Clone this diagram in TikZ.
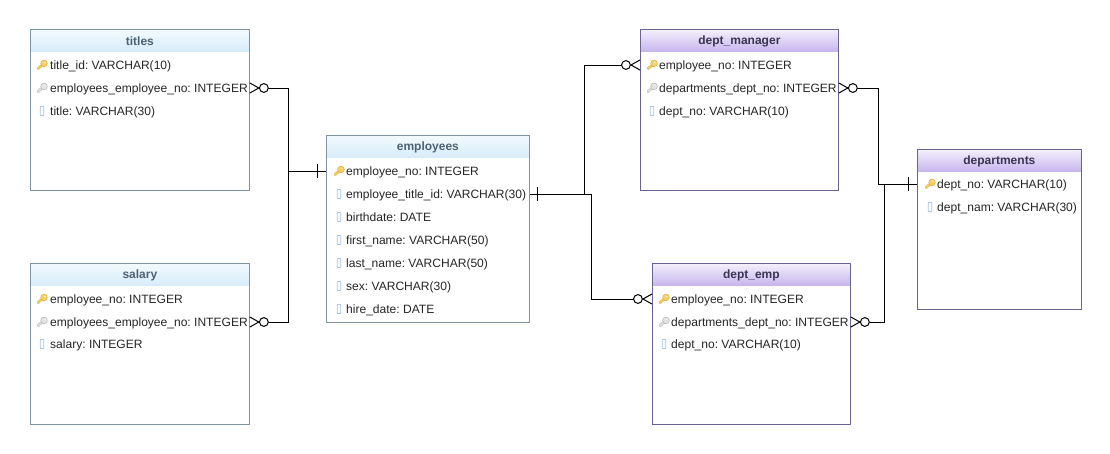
\documentclass[tikz,border=0pt]{standalone}
\usepackage{fontspec}
\setmainfont{Liberation Sans}
\usetikzlibrary{calc}
\definecolor{bluebd}{HTML}{7F939F}
\definecolor{purpbd}{HTML}{6A6390}
\definecolor{bluetop}{HTML}{F2F9FD}
\definecolor{bluebot}{HTML}{D6ECFA}
\definecolor{purptop}{HTML}{F3EEFC}
\definecolor{purpbot}{HTML}{C6B5EC}
\definecolor{bluehd}{HTML}{4F6271}
\definecolor{purphd}{HTML}{3A3553}
\tikzset{
  x=1pt,y=-1pt,
  tablebox/.style={draw=#1,line width=0.9pt,fill=white,inner sep=0pt,rectangle},
  headtext/.style={font=\fontsize{12}{14}\selectfont\bfseries,text=#1,inner sep=0pt,anchor=center},
  rowtext/.style={font=\frenchspacing\fontsize{12.05}{14}\selectfont,text=black!85,anchor=base west,inner sep=0pt},
  link/.style={draw=black,line width=1pt},
}
\newcommand{\keyicon}[4]{% x y fill edge
  \begin{scope}[shift={(#1,#2)}]
    \draw[#4,line width=2.6pt,line cap=round] (-4,3.6) -- (1,-.6);
    \draw[#3,line width=1.6pt,line cap=round] (-4,3.6) -- (1,-.6);
    \fill[#4] (2,-1.6) circle (3.6);
    \fill[#3] (2,-1.6) circle (3);
    \fill[white] (2.8,-2.4) circle (.7);
  \end{scope}}
\newcommand{\colicon}[2]{\draw[draw=#2,fill=white,line width=.8pt,rounded corners=.5pt] (#1-1.8,-4.5) rectangle (#1+1.8,4.5);}
\definecolor{keygold}{HTML}{F6CF63}
\definecolor{keygoldd}{HTML}{E0A93A}
\definecolor{keygrey}{HTML}{E2E2E4}
\definecolor{keygreyd}{HTML}{AFAFB4}
\definecolor{colblue}{HTML}{A9C6E6}
% #1 name #2 x0 #3 y0 #4 x1 #5 y1 #6 title #7 kind(blue/purp)
\newcommand{\tablebox}[7]{
  \node[tablebox=#7bd,minimum width=#4-#2,minimum height=#5-#3] (#1) at ({(#2+#4)/2+.4},{(#3+#5)/2}) {};
  \shade[top color=#7top,bottom color=#7bot] ($(#1.north west)+(.5,.5)$) rectangle ($(#1.north east)+(-.5,22)$);
  \draw[#7bd,line width=.9pt] (#1.north west) rectangle (#1.south east);
  \node[headtext=#7hd] (#1-head) at ($(#1.north)+(0,11.6)$) {#6};
}
% #1 node name #2 key x #3 text x #4 y #5 type #6 text
\newcommand{\trow}[6]{
  \ifnum#5=1 \keyicon{#2}{#4}{keygold}{keygoldd}\fi
  \ifnum#5=2 \keyicon{#2}{#4}{keygrey}{keygreyd}\fi
  \ifnum#5=3 \begin{scope}[shift={(0,#4)}]\colicon{#2}{colblue}\end{scope}\fi
  \node[rowtext] (#1) at (#3,#4+4.4) {#6};
}
\begin{document}
\begin{tikzpicture}
\useasboundingbox (0,0) rectangle (1110,453);
\fill[white] (0,0) rectangle (1110,453);
\tablebox{titles}{30}{30}{249}{190}{titles}{blue}
\trow{t1}{42}{50}{65}{1}{title\_id: VARCHAR(10)}
\trow{t2}{42}{50}{88}{2}{employees\_employee\_no: INTEGER}
\trow{t3}{42}{50}{111}{3}{title: VARCHAR(30)}
\tablebox{salary}{30}{264}{249}{424}{salary}{blue}
\trow{s1}{42}{50}{299}{1}{employee\_no: INTEGER}
\trow{s2}{42}{50}{322}{2}{employees\_employee\_no: INTEGER}
\trow{s3}{42}{50}{344}{3}{salary: INTEGER}
\tablebox{employees}{326}{136}{529}{322}{employees}{blue}
\trow{e1}{339}{346}{171}{1}{employee\_no: INTEGER}
\trow{e2}{339}{346}{194}{3}{employee\_title\_id: VARCHAR(30)}
\trow{e3}{339}{346}{217}{3}{birthdate: DATE}
\trow{e4}{339}{346}{240}{3}{first\_name: VARCHAR(50)}
\trow{e5}{339}{346}{263}{3}{last\_name: VARCHAR(50)}
\trow{e6}{339}{346}{286}{3}{sex: VARCHAR(30)}
\trow{e7}{339}{346}{309}{3}{hire\_date: DATE}
\tablebox{manager}{640}{30}{838}{190}{dept\_manager}{purp}
\trow{m1}{652}{659}{65}{1}{employee\_no: INTEGER}
\trow{m2}{652}{659}{88}{2}{departments\_dept\_no: INTEGER}
\trow{m3}{652}{659}{111}{3}{dept\_no: VARCHAR(10)}
\tablebox{emp}{652}{264}{850}{424}{dept\_emp}{purp}
\trow{d1}{664}{671}{299}{1}{employee\_no: INTEGER}
\trow{d2}{664}{671}{322}{2}{departments\_dept\_no: INTEGER}
\trow{d3}{664}{671}{344}{3}{dept\_no: VARCHAR(10)}
\tablebox{departments}{917}{150}{1081}{309}{departments}{purp}
\trow{p1}{930}{937}{184}{1}{dept\_no: VARCHAR(10)}
\trow{p2}{930}{937}{207}{3}{dept\_nam: VARCHAR(30)}
% anchors on table edges
\coordinate (aT) at (titles.east |- 0,88);
\coordinate (aS) at (salary.east |- 0,322);
\coordinate (aE) at (employees.west |- 0,171);
\coordinate (aEr) at (employees.east |- 0,194);
\coordinate (aM) at (manager.west |- 0,65);
\coordinate (aD) at (emp.west |- 0,299);
\coordinate (aMr) at (manager.east |- 0,88);
\coordinate (aDr) at (emp.east |- 0,322);
\coordinate (aP) at (departments.west |- 0,184);
% connectors
\draw[link] (aT) ++(18,0) -- (288,88) -- (288,322) -- ($(aS)+(18,0)$);
\draw[link] (288,171) -- (aE);
\draw[link] (aEr) -- (591,194) -- (591,299) -- ($(aD)+(-18,0)$);
\draw[link] (584,194) -- (584,65) -- ($(aM)+(-18,0)$);
\draw[link] ($(aMr)+(18,0)$) -- (878,88) -- (878,184) -- (aP);
\draw[link] ($(aDr)+(18,0)$) -- (884,322) -- (884,184);
% crow's feet
\foreach \p/\s in {aT/1,aS/1,aMr/1,aDr/1,aM/-1,aD/-1}{
  \draw[link] ($(\p)+(0,-5)$) -- ($(\p)+(\s*9,0)$) -- ($(\p)+(0,5)$);
  \draw[link,fill=white] ($(\p)+(\s*14,0)$) circle (4.4);
}
% one-bars
\draw[link] ($(aE)+(-8,-7)$) -- ($(aE)+(-8,7)$);
\draw[link] ($(aEr)+(8,-7)$) -- ($(aEr)+(8,7)$);
\draw[link] ($(aP)+(-8,-7)$) -- ($(aP)+(-8,7)$);
\end{tikzpicture}
\end{document}
